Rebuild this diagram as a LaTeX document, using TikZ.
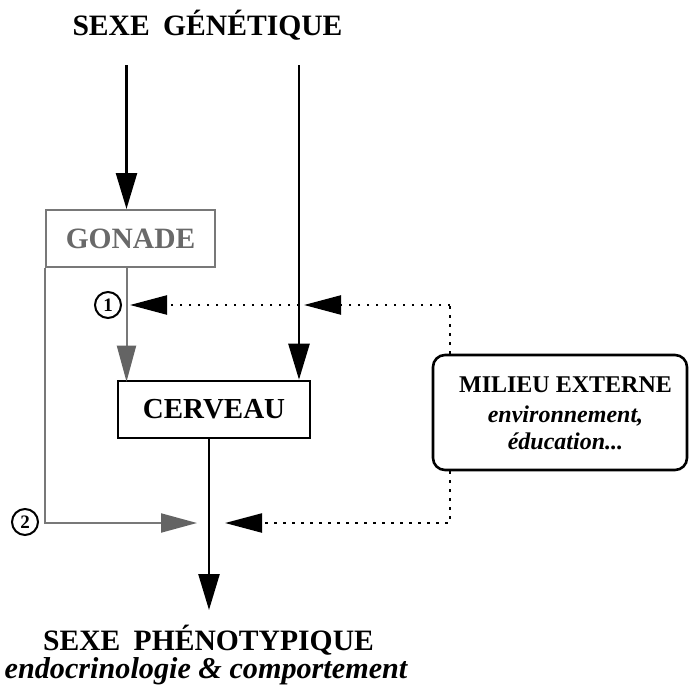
\documentclass[tikz,border=0pt]{standalone}
\usepackage{fontspec}
\setmainfont{Liberation Serif}
\usetikzlibrary{arrows.meta}
\definecolor{gontext}{RGB}{105,105,105}
\definecolor{gonline}{RGB}{120,120,120}
\definecolor{gonarrow}{RGB}{100,100,100}
\begin{document}
\begin{tikzpicture}[x=1pt,y=-1pt,
  bigtext/.style={font=\bfseries\fontsize{29.6}{31}\selectfont, inner sep=0pt, anchor=base},
  midtext/.style={font=\bfseries\fontsize{24}{26}\selectfont, inner sep=0pt, anchor=base},
  miditalic/.style={font=\bfseries\itshape\fontsize{24}{26}\selectfont, inner sep=0pt, anchor=base},
  blk/.style={line width=2.5pt, draw=black, -{Triangle[length=36pt,width=21pt]}},
  gry/.style={line width=2pt, draw=gonline, -{Triangle[length=36pt,width=19pt,fill=gonarrow,color=gonarrow]}},
  dots/.style={line width=2.3pt, dash pattern=on 2.3pt off 6.7pt, -{Triangle[length=37pt,width=19pt]}},
  dotsplain/.style={line width=2.3pt, dash pattern=on 2.3pt off 6.7pt},
  numcirc/.style={circle, draw, line width=2pt, minimum size=26pt, inner sep=0pt, font=\bfseries\fontsize{19}{19}\selectfont},
]
\useasboundingbox[fill=white] (0,0) rectangle (690,688);

% titles
\node[bigtext] (gen) at (207.5,35) {SEXE\hspace{0.45em}GÉNÉTIQUE};
\node[bigtext] (phen) at (208.5,650) {SEXE\hspace{0.45em}PHÉNOTYPIQUE};
\node[bigtext, font=\bfseries\itshape\fontsize{30.2}{31}\selectfont] (endo) at (206,678) {endocrinologie \& comportement};

% boxes
\node[draw=gonline, line width=2pt, minimum width=169pt, minimum height=57pt, inner sep=0pt,
      text=gontext, font=\bfseries\fontsize{29.5}{30}\selectfont] (gonade) at (130.5,238.5) {GONADE};
\node[draw, line width=2.6pt, minimum width=192pt, minimum height=57pt, inner sep=0pt,
      font=\bfseries\fontsize{29}{31}\selectfont] (cerveau) at (214,409.5) {CERVEAU};
\node[draw, line width=2.6pt, rounded corners=12pt, minimum width=254pt, minimum height=115pt, inner sep=0pt] (milieu) at (560,412.5) {};
\node[midtext] (mil1) at (565.5,392) {MILIEU EXTERNE};
\node[miditalic] (mil2) at (565.5,422) {environnement,};
\node[miditalic] (mil3) at (565.5,449) {éducation...};

% number circles
\node[numcirc] (n1) at (108,305) {1};
\node[numcirc] (n2) at (25,522) {2};

% coordinates
\coordinate (g1) at (126.5,65);
\coordinate (g2) at (299,65);
\coordinate (d1) at (450,305);
\coordinate (j2) at (209,523);
\coordinate (pend) at (209,610);

% top arrows
\draw[blk] (g1) -- (g1 |- gonade.north);
\draw[blk] (g2) -- (g2 |- cerveau.north);

% gray connectors from gonade
\draw[gry] (g1 |- gonade.south) -- ([yshift=-2pt]g1 |- cerveau.north);
\draw[gry] (gonade.south west) -- (gonade.south west |- j2) -- ([xshift=-12pt]j2);

% main output arrow
\draw[blk] (j2 |- cerveau.south) -- (pend);

% dotted influences from milieu
\draw[dotsplain] (d1 |- milieu.north) -- (d1);
\draw[dots] (d1) -- ([xshift=5pt]g2 |- d1);
\draw[dots] (g2 |- d1) -- ([xshift=3.5pt]g1 |- d1);
\draw[dots] (d1 |- milieu.south) -- (d1 |- j2) -- ([xshift=16pt]j2);
\end{tikzpicture}
\end{document}
